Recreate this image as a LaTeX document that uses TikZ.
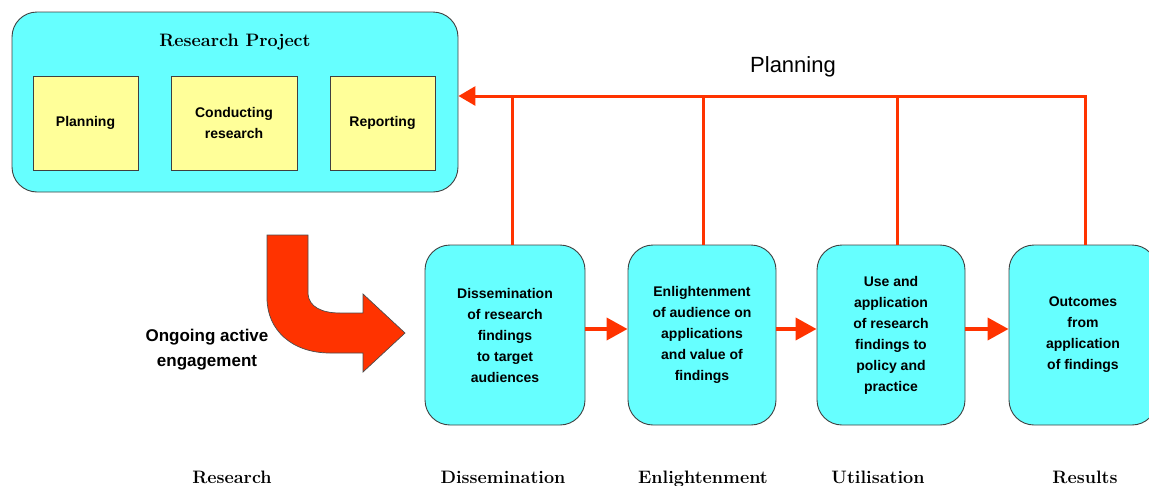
\documentclass[tikz,border=0pt]{standalone}
\usepackage{fontspec}
\newfontfamily\arial{Liberation Sans}
\usetikzlibrary{arrows.meta}
\definecolor{cy}{HTML}{66FFFF}
\definecolor{yl}{HTML}{FFFF99}
\definecolor{rd}{HTML}{FF3300}
\begin{document}
\begin{tikzpicture}[x=1pt,y=-1pt,
  rbox/.style={draw=black!75, line width=0.9pt, fill=cy, rounded corners=25pt,
    inner sep=0pt, align=center, minimum width=148pt, minimum height=180pt,
    font=\arial\bfseries\fontsize{14}{21}\selectfont},
  ybox/.style={draw=black!75, line width=0.9pt, fill=yl, inner sep=0pt,
    align=center, minimum width=105pt, minimum height=94pt,
    font=\arial\bfseries\fontsize{14}{21.5}\selectfont},
  stagelbl/.style={anchor=base, font=\bfseries\fontsize{18}{20}\selectfont},
  fbline/.style={draw=rd, line width=3pt},
  fwd/.style={draw=rd, line width=4pt, -{Triangle[length=21pt,width=22pt]}},
]
\useasboundingbox (0,0) rectangle (1149,485);
\clip (0,0) rectangle (1149,485);

% research project
\node[rbox, minimum width=446pt, minimum height=180pt] (rp) at (235,102) {};
\node[anchor=base, font=\bfseries\fontsize{18}{20}\selectfont] (title) at (235,46) {Research Project};
\node[ybox] (p1) at (85.5,123) {Planning};
\node[ybox, minimum width=126pt] (p2) at (234,123) {Conducting\\research};
\node[ybox] (p3) at (382.5,123) {Reporting};

% stage boxes
\node[rbox, minimum width=160pt] (b1) at (505,335) {Dissemination\\of research\\findings\\to target\\audiences};
\node[rbox] (b2) at (702,335) {Enlightenment\\of audience on\\applications\\and value of\\findings};
\node[rbox] (b3) at (891,335) {Use and\\application\\of research\\findings to\\policy and\\practice};
\node[rbox] (b4) at (1083,335) {Outcomes\\from\\application\\of findings};

% forward arrows
\draw[fwd] ([yshift=6pt]b1.east) -- ([yshift=6pt]b2.west);
\draw[fwd] ([yshift=6pt]b2.east) -- ([yshift=6pt]b3.west);
\draw[fwd] ([yshift=6pt]b3.east) -- ([yshift=6pt]b4.west);

% planning feedback
\coordinate (top) at (1085,96);
\draw[fbline] ([xshift=2pt]b4.north) -- ([xshift=2pt]b4.north |- top);
\draw[fbline] ([xshift=6pt]b3.north) -- ([xshift=6pt]b3.north |- top);
\draw[fbline] ([xshift=1pt]b2.north) -- ([xshift=1pt]b2.north |- top);
\draw[fbline] ([xshift=7pt]b1.north) -- ([xshift=7pt]b1.north |- top);
\draw[fbline, -{Triangle[length=17pt,width=19pt]}] ([xshift=1.5pt]top) -- (rp.east |- top);
\node[font=\arial\fontsize{22}{24}\selectfont] (plan) at (793,67) {Planning};

% big curved arrow
\draw[fill=rd, draw=black!70, line width=0.7pt]
  (267,235) -- (308,235) -- (308,294)
  .. controls (309,307) and (322,313) .. (340,313)
  -- (363,313) -- (363,294) -- (405,333) -- (363,372) -- (363,353) -- (330,353)
  .. controls (292,353) and (267,330) .. (267,298) -- cycle;
\node[align=center, font=\arial\bfseries\fontsize{17}{25}\selectfont] (eng) at (207,350) {Ongoing active\\engagement};

% stage labels
\node[stagelbl] (l1) at (232,483) {Research};
\node[stagelbl] (l2) at (503,483) {Dissemination};
\node[stagelbl] (l3) at (703,483) {Enlightenment};
\node[stagelbl] (l4) at (878,483) {Utilisation};
\node[stagelbl] (l5) at (1085,483) {Results};
\end{tikzpicture}
\end{document}
